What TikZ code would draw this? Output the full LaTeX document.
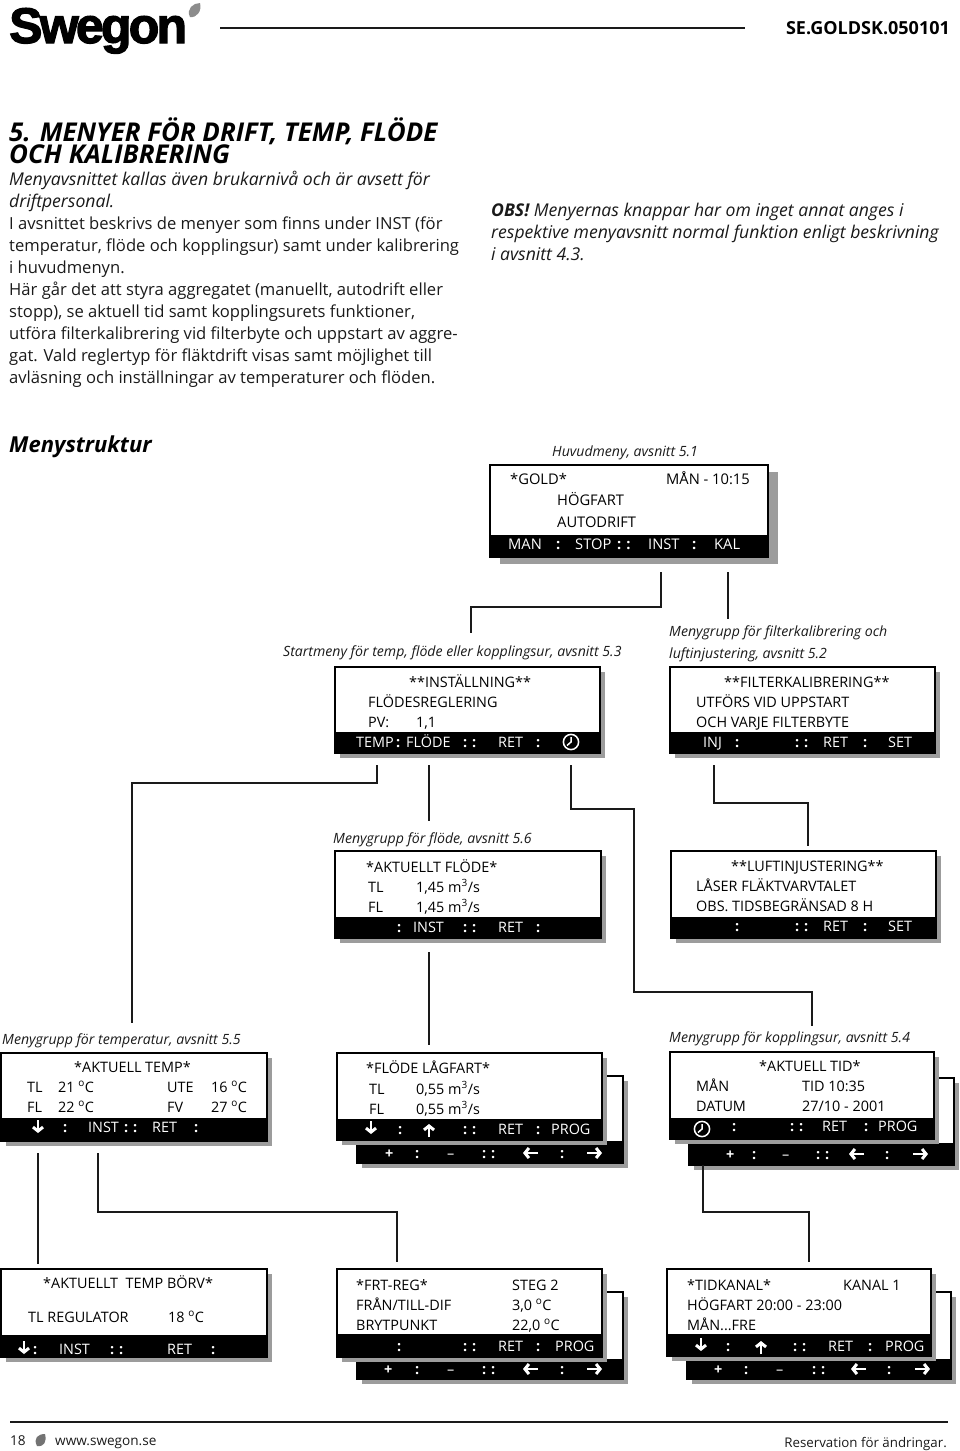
\documentclass[tikz,border=0pt]{standalone}
\usepackage{fontspec}
\setmainfont{Open Sans}
\newfontfamily\logofont[LetterSpace=-5.5,FakeBold=2.5]{Liberation Sans}
\usetikzlibrary{arrows.meta}
\definecolor{inkgray}{HTML}{1A1A1A}
\definecolor{shadowgray}{HTML}{9C9C9C}
\tikzset{
	bodytxt/.style={anchor=north west,inner sep=0pt,align=left,text=inkgray,font=\fontsize{16.6}{22.1}\selectfont},
	titletxt/.style={anchor=north west,inner sep=0pt,align=left,font=\fontsize{25.9}{22}\selectfont\bfseries\itshape},
	captxt/.style={anchor=west,inner sep=0pt,text height=10pt,text depth=0pt,text=inkgray,font=\fontsize{14.1}{16}\selectfont\itshape},
	foottxt/.style={captxt,font=\fontsize{13.6}{16}\selectfont},
	mtxt/.style={anchor=west,inner sep=0pt,text height=10pt,text depth=0pt,text=black,font=\fontsize{14.4}{16}\selectfont},
	btxt/.style={mtxt,text=white},
	bigtxt/.style={mtxt,font=\fontsize{14.7}{18}\selectfont},
	bigbar/.style={btxt,font=\fontsize{14.7}{18}\selectfont},
	menubg/.style={draw=black,line width=1.1pt,fill=white,inner sep=0pt,outer sep=0pt,anchor=north west},
	link/.style={line width=1.4pt,line join=miter,draw=inkgray},
	iconarrow/.style={draw=white,line width=2.5pt,-{Straight Barb[length=4pt,width=10pt,line width=3pt]}},
	clockface/.style={draw=white,line width=1.5pt}
}
% shadow, white panel and black bar of one display
\newcommand{\menubox}[6]{
	\fill[shadowgray] (#2+\shx,#3+\shy) rectangle (#4+\shx,#5+\shy);
	\node[menubg,minimum width={(#4-#2)*1pt},minimum height={(#5-#3)*1pt}] (#1) at (#2,#3) {};
	\fill[black] (#2-0.5,#6) rectangle (#4+0.5,#5+0.5);
}
\newcommand{\cln}{{\bfseries :}}
\newcommand{\dcln}{{\bfseries :\,\,:}}
\newcommand{\plus}{{\bfseries +}}
\newcommand{\arrdown}[2]{\draw[iconarrow] (#1,#2-7) -- (#1,#2+6);}
\newcommand{\arrup}[2]{\draw[iconarrow] (#1,#2+7) -- (#1,#2-6);}
\newcommand{\arrleft}[2]{\draw[iconarrow] (#1+8,#2) -- (#1-7,#2);}
\newcommand{\arrright}[2]{\draw[iconarrow] (#1-8,#2) -- (#1+7,#2);}
\newcommand{\clockicon}[2]{
	\draw[clockface] (#1,#2) circle (7.6);
	\draw[clockface] (#1,#2-5) -- (#1,#2) -- (#1-4,#2+3.5);
}
\newcommand{\leaf}[5]{\fill[#5] (#1,#2) .. controls (#1-4,#2-8) and (#3-7,#4) .. (#3,#4) .. controls (#3+2,#4+8) and (#1+7,#2+1) .. (#1,#2);}
\newcommand{\ital}{\fontsize{17.6}{22.1}\selectfont\itshape}
\newcommand{\degr}{\textsuperscript{o}}
\newcommand{\cub}{m\textsuperscript{3}/s}
\begin{document}
\begin{tikzpicture}[x=1pt,y=-1pt]
	\useasboundingbox (0,0) rectangle (960,1451);
	% header
	\node[anchor=base west,inner sep=0pt,font=\logofont\bfseries\fontsize{50}{50}\selectfont] (logo) at (9,43) {Swegon};
	\leaf{190}{17}{200}{3}{black!45}
	\coordinate (headL) at (220,28); \coordinate (headR) at (745,28);
	\draw[line width=1.6pt,draw=inkgray] (headL) -- (headR);
	\node[anchor=east,inner sep=0pt,font=\fontsize{18}{20}\selectfont\bfseries] (docref) at (950,28) {SE.GOLDSK.050101};
	% text
	\node[titletxt] (title) at (9,118) {5. MENYER FÖR DRIFT, TEMP, FLÖDE\\[-1.5pt]OCH KALIBRERING};
	\node[bodytxt] (intro) at (9,170.5) {{\ital Menyavsnittet kallas även brukarnivå och är avsett för}\\
		{\ital driftpersonal.}\\
		I avsnittet beskrivs de menyer som finns under INST (för\\
		temperatur, flöde och kopplingsur) samt under kalibrering\\
		i huvudmenyn.\\
		Här går det att styra aggregatet (manuellt, autodrift eller\\
		stopp), se aktuell tid samt kopplingsurets funktioner,\\
		utföra filterkalibrering vid filterbyte och uppstart av aggre-\\
		gat. Vald reglertyp för fläktdrift visas samt möjlighet till\\
		avläsning och inställningar av temperaturer och flöden.};
	\node[bodytxt,font=\ital] (obs) at (491,203) {\textbf{OBS!} Menyernas knappar har om inget annat anges i\\
		respektive menyavsnitt normal funktion enligt beskrivning\\
		i avsnitt 4.3.};
	\node[anchor=west,inner sep=0pt,font=\fontsize{22}{24}\selectfont\bfseries\itshape] (struct) at (9,447) {Menystruktur};
	% captions
	\node[captxt] (capmain) at (552,451) {Huvudmeny, avsnitt 5.1};
	\node[captxt] (capstart) at (283,651) {Startmeny för temp, flöde eller kopplingsur, avsnitt 5.3};
	\node[captxt] (capfilt) at (669,631) {Menygrupp för filterkalibrering och};
	\node[captxt] (capinj) at (669,653) {luftinjustering, avsnitt 5.2};
	\node[captxt] (capflow) at (333,838) {Menygrupp för flöde, avsnitt 5.6};
	\node[captxt] (captemp) at (2,1039) {Menygrupp för temperatur, avsnitt 5.5};
	\node[captxt] (capclock) at (669,1037) {Menygrupp för kopplingsur, avsnitt 5.4};
	% main menu
	\def\shx{10} \def\shy{7}
	\menubox{mainmenu}{490}{465}{768}{557}{535}
	\def\shx{5} \def\shy{5}
	\node[bigtxt] (mgold) at (510,479) {*GOLD*};
	\node[bigtxt] (mtime) at (666,479) {MÅN - 10:15};
	\node[bigtxt] (mfan) at (557,500) {HÖGFART};
	\node[bigtxt] (mauto) at (557,522) {AUTODRIFT};
	\foreach \px/\lab [count=\k] in {508/MAN,556/\cln,575/STOP,617/\dcln,648/INST,692/\cln,714/KAL}
		\node[bigbar] (mbar\k) at (\px,544) {\lab};
	% start menu and filter menu
	\menubox{startmenu}{335}{667}{600}{753}{732}
	\node[mtxt] (sa) at (409,682) {**INSTÄLLNING**};
	\node[mtxt] (sb) at (368,702) {FLÖDESREGLERING};
	\node[mtxt] (sc) at (368,722) {PV:};
	\node[mtxt] (sd) at (416,722) {1,1};
	\foreach \px/\lab [count=\k] in {356/TEMP,396/\cln,406/FLÖDE,463/\dcln,498/RET,536/\cln}
		\node[btxt] (sbar\k) at (\px,742) {\lab};
	\clockicon{571}{742}
	\menubox{filtmenu}{670}{667}{935}{753}{732}
	\node[mtxt] (fa) at (724,682) {**FILTERKALIBRERING**};
	\node[mtxt] (fb) at (696,702) {UTFÖRS VID UPPSTART};
	\node[mtxt] (fc) at (696,722) {OCH VARJE FILTERBYTE};
	\foreach \px/\lab [count=\k] in {703/INJ,735/\cln,795/\dcln,823/RET,863/\cln,888/SET}
		\node[btxt] (fbar\k) at (\px,742) {\lab};
	% flow menu and air menu
	\menubox{flowmenu}{335}{851}{601}{938}{917}
	\node[mtxt] (qa) at (366,867) {*AKTUELLT FLÖDE*};
	\node[mtxt] (qb) at (368,887) {TL};
	\node[mtxt] (qc) at (416,887) {1,45 \cub};
	\node[mtxt] (qd) at (368,907) {FL};
	\node[mtxt] (qe) at (416,907) {1,45 \cub};
	\foreach \px/\lab [count=\k] in {397/\cln,413/INST,463/\dcln,498/RET,536/\cln}
		\node[btxt] (qbar\k) at (\px,927) {\lab};
	\menubox{airmenu}{671}{851}{936}{938}{917}
	\node[mtxt] (aa) at (731,866) {**LUFTINJUSTERING**};
	\node[mtxt] (ab) at (696,886) {LÅSER FLÄKTVARVTALET};
	\node[mtxt] (ac) at (696,906) {OBS. TIDSBEGRÄNSAD 8 H};
	\foreach \px/\lab [count=\k] in {735/\cln,795/\dcln,823/RET,863/\cln,888/SET}
		\node[btxt] (abar\k) at (\px,926) {\lab};
	% temperature menu
	\menubox{tempmenu}{1}{1053}{267}{1141}{1118}
	\node[mtxt] (ta) at (74,1067) {*AKTUELL TEMP*};
	\node[mtxt] (tb) at (27,1087) {TL};
	\node[mtxt] (tc) at (58,1087) {21 \degr C};
	\node[mtxt] (td) at (167,1087) {UTE};
	\node[mtxt] (te) at (211,1087) {16 \degr C};
	\node[mtxt] (tf) at (27,1107) {FL};
	\node[mtxt] (tg) at (58,1107) {22 \degr C};
	\node[mtxt] (th) at (167,1107) {FV};
	\node[mtxt] (ti) at (211,1107) {27 \degr C};
	\foreach \px/\lab [count=\k] in {63/\cln,88/INST,124/\dcln,152/RET,194/\cln}
		\node[btxt] (tbar\k) at (\px,1127) {\lab};
	\arrdown{38}{1127}
	% low speed flow menu, two panels
	\menubox{lowback}{357}{1076}{623}{1163}{1141}
	\foreach \px/\lab [count=\k] in {385/\plus,415/\cln,447/--,482/\dcln,560/\cln}
		\node[btxt] (lbbar\k) at (\px,1153) {\lab};
	\arrleft{530}{1153}
	\arrright{595}{1153}
	\menubox{lowfront}{337}{1053}{602}{1140}{1119}
	\node[mtxt] (la) at (366,1068) {*FLÖDE LÅGFART*};
	\node[mtxt] (lb) at (369,1089) {TL};
	\node[mtxt] (lc) at (416,1089) {0,55 \cub};
	\node[mtxt] (ld) at (369,1109) {FL};
	\node[mtxt] (le) at (416,1109) {0,55 \cub};
	\foreach \px/\lab [count=\k] in {398/\cln,463/\dcln,498/RET,536/\cln,551/PROG}
		\node[btxt] (lbar\k) at (\px,1129) {\lab};
	\arrdown{371}{1128}
	\arrup{429}{1130}
	% clock menu, two panels
	\menubox{clockback}{689}{1078}{954}{1165}{1143}
	\foreach \px/\lab [count=\k] in {726/\plus,752/\cln,782/--,816/\dcln,885/\cln}
		\node[btxt] (cbbar\k) at (\px,1154) {\lab};
	\arrleft{856}{1154}
	\arrright{921}{1154}
	\menubox{clockfront}{670}{1052}{934}{1139}{1118}
	\node[mtxt] (ca) at (759,1066) {*AKTUELL TID*};
	\node[mtxt] (cb) at (696,1086) {MÅN};
	\node[mtxt] (cc) at (802,1086) {TID 10:35};
	\node[mtxt] (cd) at (696,1106) {DATUM};
	\node[mtxt] (ce) at (802,1106) {27/10 - 2001};
	\foreach \px/\lab [count=\k] in {732/\cln,790/\dcln,822/RET,864/\cln,878/PROG}
		\node[btxt] (cbar\k) at (\px,1126) {\lab};
	\clockicon{702}{1129}
	% setpoint menu
	\menubox{setmenu}{1}{1269}{267}{1357}{1335}
	\node[mtxt] (ba) at (43,1283) {*AKTUELLT\ \ TEMP BÖRV*};
	\node[mtxt] (bb) at (28,1317) {TL REGULATOR};
	\node[mtxt] (bc) at (168,1317) {18 \degr C};
	\foreach \px/\lab [count=\k] in {33/\cln,59/INST,110/\dcln,167/RET,211/\cln}
		\node[btxt] (bbar\k) at (\px,1349) {\lab};
	\arrdown{24}{1348}
	% regulator menu, two panels
	\menubox{regback}{357}{1292}{623}{1379}{1359}
	\foreach \px/\lab [count=\k] in {384/\plus,415/\cln,447/--,482/\dcln,560/\cln}
		\node[btxt] (rbbar\k) at (\px,1369) {\lab};
	\arrleft{530}{1369}
	\arrright{595}{1369}
	\menubox{regfront}{337}{1269}{602}{1357}{1334}
	\node[mtxt] (ra) at (356,1285) {*FRT-REG*};
	\node[mtxt] (rb) at (512,1285) {STEG 2};
	\node[mtxt] (rc) at (356,1305) {FRÅN/TILL-DIF};
	\node[mtxt] (rd) at (512,1305) {3,0 \degr C};
	\node[mtxt] (re) at (356,1325) {BRYTPUNKT};
	\node[mtxt] (rf) at (512,1325) {22,0 \degr C};
	\foreach \px/\lab [count=\k] in {397/\cln,463/\dcln,498/RET,536/\cln,555/PROG}
		\node[btxt] (rbar\k) at (\px,1346) {\lab};
	% time channel menu, two panels
	\menubox{chanback}{687}{1292}{951}{1379}{1359}
	\foreach \px/\lab [count=\k] in {714/\plus,744/\cln,776/--,812/\dcln,887/\cln}
		\node[btxt] (hbbar\k) at (\px,1369) {\lab};
	\arrleft{858}{1369}
	\arrright{923}{1369}
	\menubox{chanfront}{667}{1269}{931}{1356}{1334}
	\node[mtxt] (ha) at (687,1285) {*TIDKANAL*};
	\node[mtxt] (hb) at (843,1285) {KANAL 1};
	\node[mtxt] (hc) at (687,1305) {HÖGFART 20:00 - 23:00};
	\node[mtxt] (hd) at (687,1325) {MÅN...FRE};
	\foreach \px/\lab [count=\k] in {726/\cln,793/\dcln,828/RET,868/\cln,885/PROG}
		\node[btxt] (hbar\k) at (\px,1346) {\lab};
	\arrdown{701}{1345}
	\arrup{761}{1347}
	% connectors
	\coordinate (instout) at (661,572); \coordinate (startin) at (471,633);
	\coordinate (kalout) at (728,572); \coordinate (filtin) at (728,619);
	\coordinate (tempout) at (377,765); \coordinate (tempin) at (132,1023);
	\coordinate (flowout) at (429,765); \coordinate (flowin) at (429,821);
	\coordinate (clockout) at (571,765); \coordinate (clockin) at (812,1026);
	\coordinate (injout) at (714,765); \coordinate (airin) at (808,846);
	\coordinate (lowout) at (429,952); \coordinate (lowin) at (429,1045);
	\coordinate (setout) at (38,1153); \coordinate (setin) at (38,1264);
	\coordinate (regout) at (98,1153); \coordinate (regin) at (397,1262);
	\coordinate (chanout) at (703,1165); \coordinate (chanin) at (809,1262);
	\draw[link] (instout) -- ++(0,35) -| (startin);
	\draw[link] (kalout) -- (filtin);
	\draw[link] (tempout) -- ++(0,18) -| (tempin);
	\draw[link] (flowout) -- (flowin);
	\draw[link] (clockout) -- ++(0,44) -- ++(63,0) -- ++(0,183) -| (clockin);
	\draw[link] (injout) -- ++(0,38) -| (airin);
	\draw[link] (lowout) -- (lowin);
	\draw[link] (setout) -- (setin);
	\draw[link] (regout) -- ++(0,59) -| (regin);
	\draw[link] (chanout) -- ++(0,47) -| (chanin);
	% footer
	\coordinate (footL) at (10,1422); \coordinate (footR) at (948,1422);
	\draw[line width=1.4pt,draw=inkgray] (footL) -- (footR);
	\node[foottxt] (pageno) at (10,1440) {18};
	\leaf{37}{1446}{45}{1434}{black!55}
	\node[foottxt] (web) at (55,1440) {www.swegon.se};
	\node[foottxt,font=\fontsize{13.3}{16}\selectfont,anchor=east] (reserv) at (947,1442) {Reservation för ändringar.};
\end{tikzpicture}
\end{document}
